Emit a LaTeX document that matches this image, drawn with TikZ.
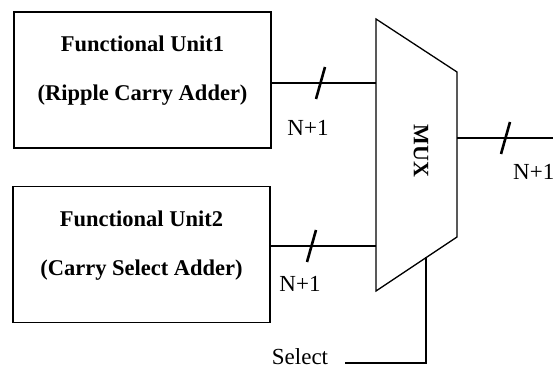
\documentclass[tikz,border=0pt]{standalone}
\usepackage{fontspec}
\setmainfont{Liberation Serif}
\usetikzlibrary{calc}
\tikzstyle{unit}=[draw,line width=1.6pt,minimum width=257pt,minimum height=136pt,inner sep=0pt]
\tikzstyle{unittext}=[align=center,font=\bfseries\fontsize{22.5}{26}\selectfont]
\tikzstyle{bus} = [draw,line width=2.8pt]
\tikzstyle{tickmark} = [draw,line width=2.6pt]
\tikzstyle{width} = [font=\fontsize{23}{26}\selectfont]

\begin{document}
\begin{tikzpicture}[x=1pt,y=-1pt]
    \useasboundingbox (0,0) rectangle (553,371);
    % Draw the two functional units
    \node[unit] (fu1) at (142.5,80) {};
    \node[unit] (fu2) at (141.5,254.5) {};
    \node[unittext] (fu1text) at ([yshift=9pt]fu1.center) {Functional Unit1\\[23pt](Ripple Carry Adder)};
    \node[unittext] (fu2text) at ([yshift=9pt]fu2.center) {Functional Unit2\\[23pt](Carry Select Adder)};

    % The multiplexer
    \coordinate (muxtl) at (376,19);
    \coordinate (muxtr) at (457,72);
    \coordinate (muxbr) at (457,237);
    \coordinate (muxbl) at (376,291);
    \draw[line width=1.3pt] (muxtl) -- (muxtr) -- (muxbr) -- (muxbl) -- cycle;
    \node[font=\bfseries\fontsize{22}{26}\selectfont,rotate=-90] (mux) at (421,151) {MUX};

    % Ports of the multiplexer
    \coordinate (in1) at (376,83);
    \coordinate (in2) at (376,246);
    \coordinate (muxout) at (457,138);
    \coordinate (out) at (553,138);
    \coordinate (sel) at (426,256.5);
    \coordinate (selstart) at (345,363);

    % Connect units to the multiplexer
    \foreach \source/ \dest in {fu1/in1, fu2/in2}
        \path[bus] (\dest -| \source.east) -- (\dest);
    \path[bus] (muxout) -- (out);

    % Bus width ticks and labels
    \foreach \x/ \y in {320.5/83, 311.5/246, 505.5/138}
        \path[tickmark] (\x+4.5,\y-16) -- (\x-4.5,\y+16);
    \node[width] (w1) at (308,128) {N+1};
    \node[width] (w2) at (300,284) {N+1};
    \node[width,anchor=west,inner sep=0pt] (w3) at (513,172) {N+1};

    % Select line
    \node[width,inner sep=1pt] (seltxt) at (300,357) {Select};
    \path[bus] (selstart) -| (sel);
\end{tikzpicture}
\end{document}
